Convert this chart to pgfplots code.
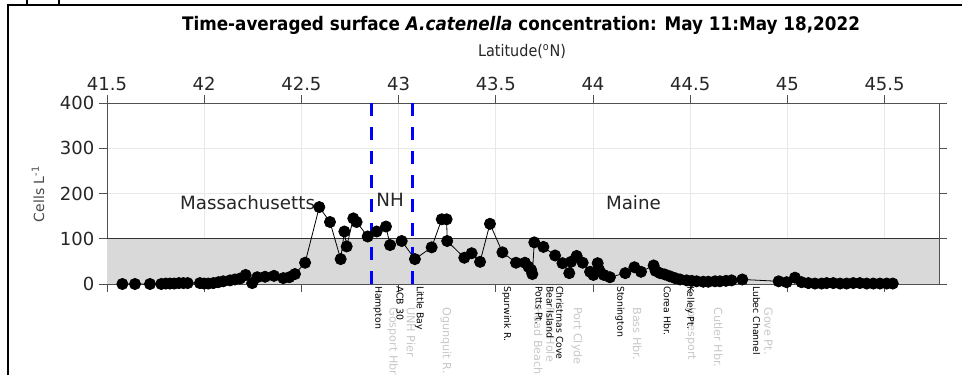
\documentclass[border=0pt]{standalone}
\usepackage{fontspec}
\setmainfont{DejaVu Sans}
\newfontfamily\condfont[FakeStretch=0.9]{DejaVu Sans}
\usepackage{pgfplots}
\pgfplotsset{compat=1.18}
\definecolor{axgray}{RGB}{38,38,38}
\definecolor{fillgray}{RGB}{217,217,217}
\definecolor{gridgray}{RGB}{232,232,232}
\definecolor{lblgray}{RGB}{200,200,200}
\pgfplotstableread{
lat val
41.579 0
41.644 0
41.721 0
41.779 0
41.802 1
41.824 1
41.846 1
41.870 2
41.893 2
41.915 2
41.978 2
41.999 1
42.021 1
42.047 2
42.073 4
42.098 6
42.133 8
42.158 10
42.184 12
42.213 20
42.247 2
42.273 15
42.313 16
42.359 18
42.407 13
42.438 15
42.467 22
42.519 47
42.592 170
42.647 137
42.702 55
42.721 116
42.733 83
42.767 145
42.784 137
42.841 105
42.887 116
42.935 127
42.956 86
43.016 95
43.084 55
43.170 81
43.222 143
43.247 143
43.250 95
43.338 58
43.376 68
43.419 49
43.470 133
43.534 70
43.604 47
43.650 47
43.668 38
43.682 31
43.688 22
43.698 92
43.745 82
43.805 63
43.843 46
43.878 24
43.887 49
43.916 62
43.947 47
43.985 27
44.002 20
44.024 46
44.032 31
44.056 20
44.087 15
44.166 24
44.213 37
44.247 27
44.312 41
44.322 29
44.345 24
44.370 21
44.396 17
44.422 13
44.448 10
44.482 8
44.508 7
44.533 6
44.567 5
44.593 5
44.628 6
44.653 6
44.684 7
44.713 8
44.768 10
44.955 6
44.996 4
45.039 14
45.073 4
45.108 2
45.142 1
45.176 1
45.202 2
45.236 2
45.271 1
45.305 1
45.339 2
45.373 2
45.408 1
45.442 1
45.476 1
45.511 1
45.542 1
}\cells
\begin{document}
\begin{tikzpicture}
\useasboundingbox (0,0) rectangle (721.5pt,281.25pt);
% outer frame
\draw[line width=1.3pt] (6pt,0) -- (6pt,277.5pt) -- (721.5pt,277.5pt);
\draw[line width=1.3pt] (20.25pt,277.5pt) -- (20.25pt,281.25pt);
\draw[line width=1.3pt] (44.25pt,277.5pt) -- (44.25pt,281.25pt);
\begin{axis}[
  at={(80.25pt,68.25pt)}, anchor=south west,
  scale only axis, width=624pt, height=135.75pt,
  xmin=41.5, xmax=45.78, ymin=0, ymax=400,
  xtick={41.5,42,42.5,43,43.5,44,44.5,45,45.5},
  xticklabels={41.5,42,42.5,43,43.5,44,44.5,45,45.5},
  ytick={0,100,200,300,400},
  xticklabel pos=right,
  tick align=outside, major tick length=6pt,
  grid=major, major grid style={gridgray, line width=0.6pt},
  axis line style={axgray!80, line width=0.6pt},
  tick style={axgray!80, line width=0.6pt},
  ticklabel style={font=\fontsize{13.5}{14}\selectfont, text=axgray},
  /pgf/number format/assume math mode=true,
  clip=false,
]
\addplot[draw=none, fill=fillgray] coordinates {(41.5,100) (45.78,100)} \closedcycle;
\addplot[black!80, line width=0.8pt] coordinates {(41.5,100) (45.78,100)};
\addplot[blue, line width=2.2pt, dash pattern=on 10pt off 8pt] coordinates {(42.862,0) (42.862,400)};
\addplot[blue, line width=2.2pt, dash pattern=on 10pt off 8pt] coordinates {(43.070,0) (43.070,400)};
\addplot[black, line width=0.6pt, mark=*, mark size=4.2pt, mark options={fill=black}] table[x=lat, y=val] {\cells};
% region labels
\node[font=\fontsize{13.7}{14}\selectfont, text=axgray] at (axis cs:42.223,179) {Massachusetts};
\node[font=\fontsize{13.7}{14}\selectfont, text=axgray] at (axis cs:42.956,186) {NH};
\node[font=\fontsize{13.7}{14}\selectfont, text=axgray] at (axis cs:44.208,179) {Maine};
% gray station labels
\begin{scope}[every node/.style={rotate=-90, anchor=west, inner sep=0pt, font=\fontsize{8.4}{9}\selectfont, text=lblgray}]
\node at (axis cs:42.970,-51) {Gosport Hbr};
\node at (axis cs:43.064,-51) {UNH Pier};
\node at (axis cs:43.244,-51) {Ogunquit R.};
\node at (axis cs:43.719,-51) {Head Beach};
\node at (axis cs:43.782,-51) {Ross Hole};
\node at (axis cs:43.918,-51) {Port Clyde};
\node at (axis cs:44.228,-51) {Bass Hbr.};
\node at (axis cs:44.505,-51) {Jonesport};
\node at (axis cs:44.645,-51) {Cutler Hbr.};
\node at (axis cs:44.902,-51) {Gove Pt.};
\end{scope}
% black station labels
\begin{scope}[every node/.style={rotate=-90, anchor=west, inner sep=0pt, font=\fontsize{7}{8}\selectfont, text=black}]
\node at (axis cs:42.893,-4) {Hampton};
\node at (axis cs:43.007,-4) {ACB 30};
\node at (axis cs:43.107,-4) {Little Bay};
\node at (axis cs:43.556,-4) {Spurwink R.};
\node at (axis cs:43.722,-4) {Potts Pt.};
\node at (axis cs:43.779,-4) {Bear Island};
\node at (axis cs:43.830,-4) {Christmas Cove};
\node at (axis cs:44.139,-4) {Stonington};
\node at (axis cs:44.382,-4) {Corea Hbr.};
\node at (axis cs:44.499,-4) {Kelley Pt.};
\node at (axis cs:44.842,-4) {Lubec Channel};
\end{scope}
\end{axis}
\node[font=\condfont\bfseries\fontsize{14}{15}\selectfont] at (390.75pt,262pt) {Time-averaged surface \textit{A.catenella} concentration: May 11:May 18,2022};
\node[font=\condfont\fontsize{12}{13}\selectfont, text=axgray] at (391.5pt,242.5pt) {Latitude(\textsuperscript{o}N)};
\node[rotate=90, font=\fontsize{10.5}{12}\selectfont, text=axgray!85] at (28.5pt,135.75pt) {Cells L\textsuperscript{-1}};
\end{tikzpicture}
\end{document}
